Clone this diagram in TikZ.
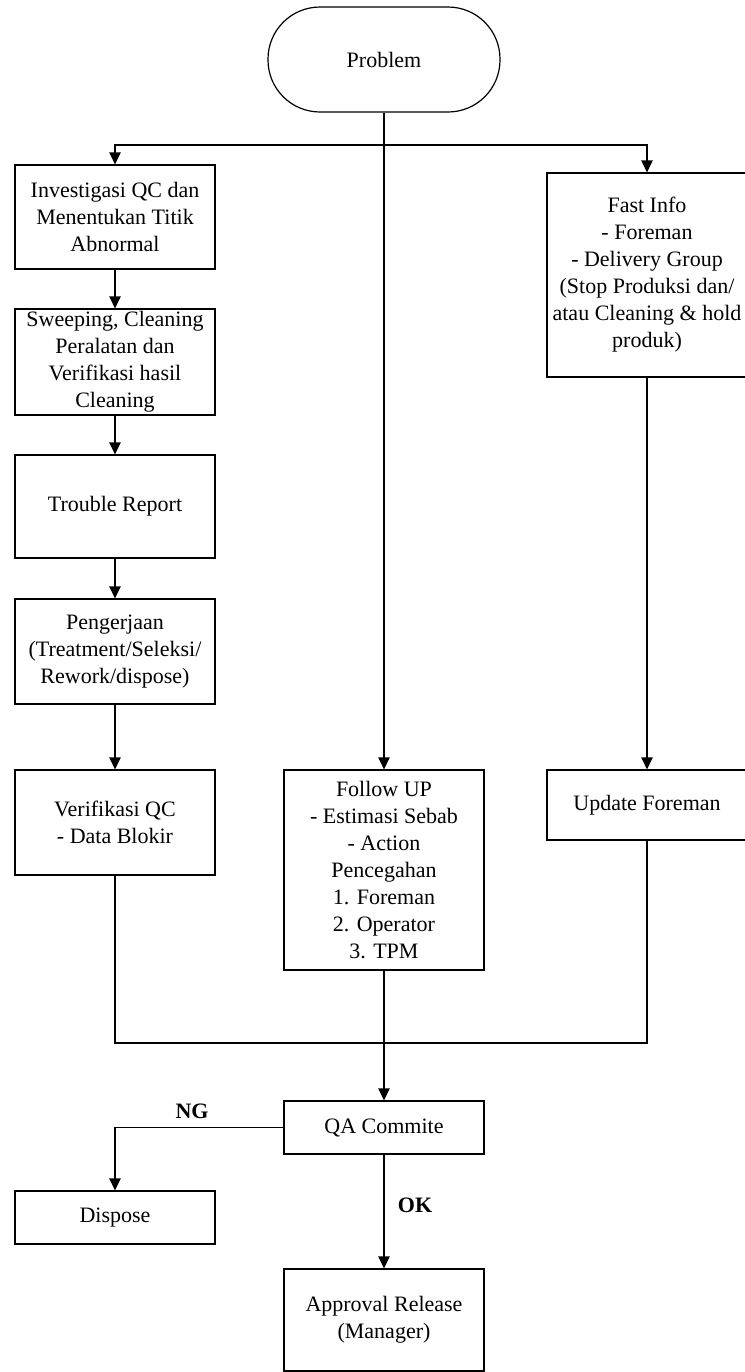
\documentclass[tikz,border=0pt]{standalone}
\usepackage{fontspec}
\setmainfont{Liberation Serif}
\usetikzlibrary{arrows.meta}

\tikzset{
  box/.style={draw, line width=0.9pt, align=center, minimum width=150pt, inner sep=0pt,
    font=\fontsize{16.5}{20.25}\selectfont},
  arr/.style={line width=0.9pt, -{Triangle[length=9pt,width=8.5pt]}},
  line/.style={line width=0.9pt},
  lbl/.style={font=\fontsize{16.5}{20}\selectfont\bfseries}
}

\begin{document}
\begin{tikzpicture}[x=0.75pt, y=-0.75pt]
    \useasboundingbox (0,0) rectangle (744,1372);

    % start
    \node[box, rounded corners=39pt, minimum width=174pt, minimum height=78.75pt] (prob) at (384,59.5) {Problem};

    % left column
    \node[box, minimum height=78pt]    (inv)  at (115,217)    {Investigasi QC dan\\Menentukan Titik\\Abnormal};
    \node[box, minimum height=79.5pt]  (swp)  at (115,362)    {Sweeping, Cleaning\\Peralatan dan\\Verifikasi hasil\\Cleaning};
    \node[box, minimum height=77.25pt] (trb)  at (115,506.5)  {Trouble Report};
    \node[box, minimum height=78.75pt] (pgj)  at (115,651.5)  {Pengerjaan\\(Treatment/Seleksi/\\Rework/dispose)};
    \node[box, minimum height=78.75pt] (vqc)  at (115,822.5)  {Verifikasi QC\\- Data Blokir};

    % middle column
    \node[box, minimum height=150pt]   (fup)  at (384,870)    {Follow UP\\- Estimasi Sebab\\- Action\\Pencegahan\\1. Foreman\\2. Operator\\3. TPM};
    \node[box, minimum height=39.75pt] (qa)   at (384,1127.5) {QA Commite};
    \node[box, minimum height=76.5pt]  (appr) at (384,1320)   {Approval Release\\(Manager)};

    % right column
    \node[box, minimum height=153pt]   (fast) at (647,275)    {Fast Info\\- Foreman\\- Delivery Group\\(Stop Produksi dan/\\atau Cleaning \& hold\\produk)};
    \node[box, minimum height=52.5pt]  (upd)  at (647,805)    {Update Foreman};

    % reject
    \node[box, minimum height=39.75pt] (disp) at (115,1217.5) {Dispose};

    \coordinate (split) at (384,145);
    \coordinate (merge) at (384,1043);

    \draw[line] (prob) -- (split);
    \draw[arr] (split) -| (inv);
    \draw[arr] (split) -| (fast);
    \draw[arr] (split) -- (fup);

    \draw[arr] (inv) -- (swp);
    \draw[arr] (swp) -- (trb);
    \draw[arr] (trb) -- (pgj);
    \draw[arr] (pgj) -- (vqc);
    \draw[arr] (fast) -- (upd);

    \draw[line] (vqc) |- (merge);
    \draw[line] (upd) |- (merge);
    \draw[line] (fup) -- (merge);
    \draw[arr] (merge) -- (qa);

    \draw[arr] (qa.west) -| (disp);
    \draw[arr] (qa) -- (appr);

    \node[lbl] (ng) at (192,1111) {NG};
    \node[lbl] (ok) at (415,1205) {OK};
\end{tikzpicture}
\end{document}
